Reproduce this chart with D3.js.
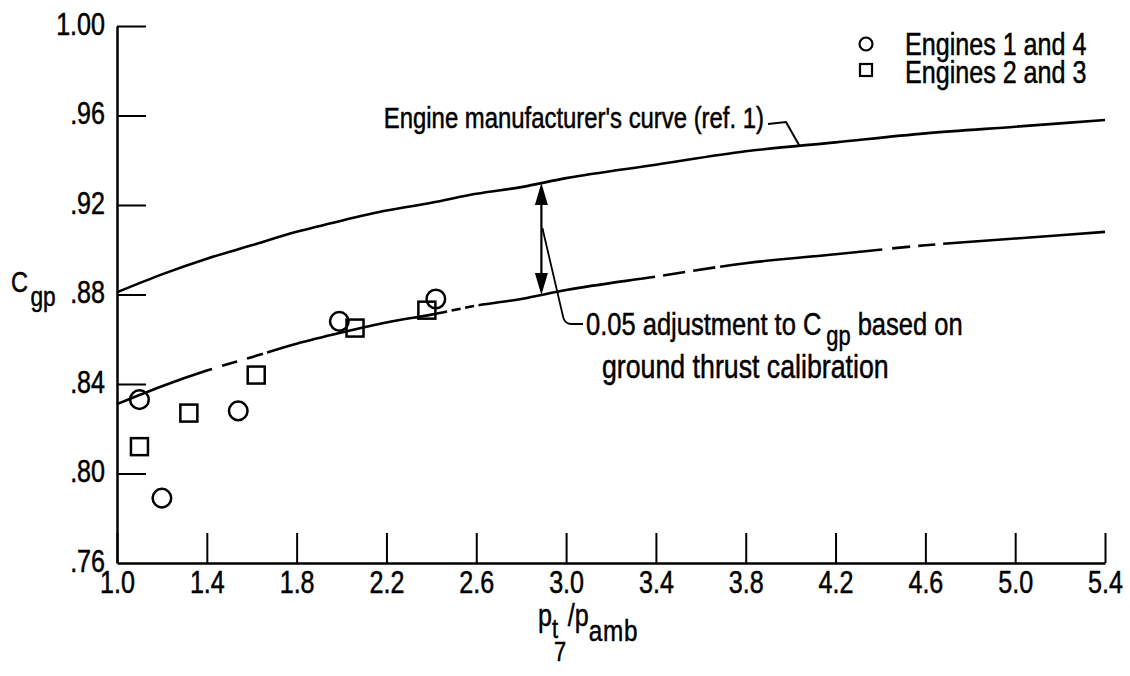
<!DOCTYPE html>
<html>
<head>
<meta charset="utf-8">
<script src="https://cdn.jsdelivr.net/npm/d3@7"></script>
<style>
  html, body { margin: 0; padding: 0; background: #fff; }
  svg text { font-family: "Liberation Sans", Arial, sans-serif; fill: #000; stroke: #000; stroke-width: 0.5px; }
</style>
</head>
<body>
<svg id="chart" width="1130" height="676"></svg>
<script>
// ---- data -------------------------------------------------------------
const xTicks = [1.0, 1.4, 1.8, 2.2, 2.6, 3.0, 3.4, 3.8, 4.2, 4.6, 5.0, 5.4];
const xTickLabels = ["1.0", "1.4", "1.8", "2.2", "2.6", "3.0", "3.4", "3.8", "4.2", "4.6", "5.0", "5.4"];
const yTicks = [0.76, 0.80, 0.84, 0.88, 0.92, 0.96, 1.00];
const yTickLabels = [".76", ".80", ".84", ".88", ".92", ".96", "1.00"];

// Engine manufacturer's gross thrust coefficient curve (ref. 1)
const curveRatio = [1.0, 1.2, 1.4, 1.6, 1.8, 2.0, 2.2, 2.4, 2.6, 2.8, 3.0, 3.4, 3.8, 4.2, 4.6, 5.0, 5.4];
const manufacturerCgp = [0.881, 0.889, 0.896, 0.902, 0.908, 0.913, 0.9175, 0.921, 0.925, 0.928, 0.932, 0.938, 0.944, 0.948, 0.952, 0.955, 0.958];
// shift applied from the ground thrust calibration
const groundAdjustment = 0.05;

// flight data
const engines14Ratio = [1.10, 1.20, 1.54, 1.99, 2.42];
const engines14Cgp   = [0.833, 0.789, 0.828, 0.868, 0.878];
const engines23Ratio = [1.10, 1.32, 1.62, 2.06, 2.38];
const engines23Cgp   = [0.812, 0.827, 0.844, 0.865, 0.873];

// stretches of the adjusted curve that are inked (pressure-ratio units)
const adjustedInkSpans = [[1.0, 1.423], [1.468, 1.535], [1.579, 1.650], [1.668, 2.47],
  [2.49, 2.53], [2.55, 2.59], [2.61, 3.396], [3.432, 3.53], [3.566, 3.664],
  [3.686, 4.408], [4.452, 4.532], [4.568, 4.644], [4.679, 5.4]];

const legendLabels = ["Engines 1 and 4", "Engines 2 and 3"];

// ---- layout -----------------------------------------------------------
const svg = d3.select("#chart");
const x = d3.scaleLinear().domain([1.0, 5.4]).range([117, 1105]);
const y = d3.scaleLinear().domain([0.76, 1.00]).range([563, 26]);

const ink = "#000";
const SX = 0.81;   // horizontal squeeze giving the condensed lettering

// text placed at (tx, ty) and squeezed horizontally about that point
function label(tx, ty, size, anchor) {
  return svg.append("text")
    .attr("transform", `translate(${tx},${ty}) scale(${SX},1)`)
    .attr("font-size", size)
    .attr("text-anchor", anchor || "start");
}

// axes with inward ticks
const yAxis = d3.axisLeft(y)
  .tickValues(yTicks)
  .tickFormat((d, i) => yTickLabels[i])
  .tickSizeInner(-29).tickSizeOuter(0).tickPadding(12);
const xAxis = d3.axisBottom(x)
  .tickValues(xTicks)
  .tickFormat((d, i) => xTickLabels[i])
  .tickSizeInner(-30).tickSizeOuter(0).tickPadding(9);

const gy = svg.append("g").attr("transform", "translate(117,0)").call(yAxis);
const gx = svg.append("g").attr("transform", "translate(0,563)").call(xAxis);
[gx, gy].forEach(g => {
  g.attr("font-family", null).attr("font-size", null);
  g.select(".domain").attr("stroke", ink).attr("stroke-width", 2.5);
  g.selectAll(".tick line").attr("stroke", ink).attr("stroke-width", 2);
  g.selectAll(".tick text").attr("font-size", 31).attr("fill", ink)
    .attr("transform", `scale(${SX},1)`);
});
gy.selectAll(".tick text").attr("x", -12 / SX).attr("dy", "0.27em");
gx.selectAll(".tick text").attr("dy", "0.69em");
gy.selectAll(".tick").filter(d => d === 0.76).select("line").remove();

// curves
const line = d3.line().x(d => x(d[0])).y(d => y(d[1])).curve(d3.curveMonotoneX);
const upperPts = curveRatio.map((r, i) => [r, manufacturerCgp[i]]);
const lowerPts = curveRatio.map((r, i) => [r, manufacturerCgp[i] - groundAdjustment]);

svg.append("path").attr("d", line(upperPts))
  .attr("fill", "none").attr("stroke", ink).attr("stroke-width", 2.6);

const lowerPath = svg.append("path").attr("d", line(lowerPts))
  .attr("fill", "none").attr("stroke", ink).attr("stroke-width", 2.6);

// turn the inked spans into a dash pattern along the path length
(function () {
  const node = lowerPath.node();
  const total = node.getTotalLength();
  const lengthAt = px => {
    let lo = 0, hi = total;
    for (let k = 0; k < 40; k++) {
      const mid = (lo + hi) / 2;
      if (node.getPointAtLength(mid).x < px) lo = mid; else hi = mid;
    }
    return (lo + hi) / 2;
  };
  const dashes = [];
  let cursor = 0;
  adjustedInkSpans.forEach(([a, b], i) => {
    const la = i === 0 ? 0 : lengthAt(x(a));
    const lb = i === adjustedInkSpans.length - 1 ? total : lengthAt(x(b));
    if (i > 0) dashes.push(la - cursor);
    dashes.push(lb - la);
    cursor = lb;
  });
  dashes.push(total);
  lowerPath.attr("stroke-dasharray", dashes.map(v => v.toFixed(2)).join(" "));
})();

// data symbols
svg.append("g").selectAll("circle")
  .data(engines14Ratio.map((r, i) => [r, engines14Cgp[i]]))
  .join("circle")
  .attr("cx", d => x(d[0])).attr("cy", d => y(d[1])).attr("r", 9.3)
  .attr("fill", "none").attr("stroke", ink).attr("stroke-width", 2.5);

const sq = 17;
svg.append("g").selectAll("rect")
  .data(engines23Ratio.map((r, i) => [r, engines23Cgp[i]]))
  .join("rect")
  .attr("x", d => x(d[0]) - sq / 2).attr("y", d => y(d[1]) - sq / 2)
  .attr("width", sq).attr("height", sq)
  .attr("fill", "none").attr("stroke", ink).attr("stroke-width", 2.5);

// legend
svg.append("circle").attr("cx", 866).attr("cy", 44).attr("r", 6.5)
  .attr("fill", "none").attr("stroke", ink).attr("stroke-width", 2.2);
svg.append("rect").attr("x", 860).attr("y", 64).attr("width", 12).attr("height", 12)
  .attr("fill", "none").attr("stroke", ink).attr("stroke-width", 2.2);
legendLabels.forEach((t, i) => label(905, 55 + i * 28, 31).text(t));

// manufacturer curve label and leader
label(764, 128, 29.5, "end").text("Engine manufacturer's curve (ref. 1)");
const upperAt = d3.scaleLinear().domain(curveRatio).range(manufacturerCgp);
const leaderRatio = 4.04;
svg.append("path")
  .attr("d", `M768,124 L786,122 L${x(leaderRatio)},${y(upperAt(leaderRatio))}`)
  .attr("fill", "none").attr("stroke", ink).attr("stroke-width", 2);

// double-headed adjustment arrow
const arrowRatio = 2.89;
const ax = x(arrowRatio);
const yTop = y(upperAt(arrowRatio));
const yBot = y(upperAt(arrowRatio) - groundAdjustment);
svg.append("line").attr("x1", ax).attr("x2", ax).attr("y1", yTop + 10).attr("y2", yBot - 10)
  .attr("stroke", ink).attr("stroke-width", 2.2);
svg.append("path").attr("d", `M${ax},${yTop} L${ax - 6.5},${yTop + 22} L${ax + 6.5},${yTop + 22} Z`).attr("fill", ink);
svg.append("path").attr("d", `M${ax},${yBot} L${ax - 6.5},${yBot - 22} L${ax + 6.5},${yBot - 22} Z`).attr("fill", ink);

// annotation leader and text
svg.append("path").attr("d", `M${ax + 1},228 L${ax + 22},318 Q${ax + 24},324 ${ax + 30},324 L583,324`)
  .attr("fill", "none").attr("stroke", ink).attr("stroke-width", 1.8);
const ann = label(586, 335, 31.5);
ann.append("tspan").text("0.05 adjustment to C");
ann.append("tspan").attr("dy", 10).attr("dx", 6).attr("font-size", 27).text("gp");
ann.append("tspan").attr("dy", -10).text(" based on");
label(602, 378, 33).text("ground thrust calibration");

// axis titles
const yt = label(11, 292, 29);
yt.append("tspan").text("C");
yt.append("tspan").attr("dy", 14).attr("dx", 3).attr("font-size", 28).text("gp");

const xt = label(538, 626, 31);
xt.append("tspan").text("p");
xt.append("tspan").attr("dy", 12).attr("font-size", 27).text("t");
xt.append("tspan").attr("dy", 23).attr("dx", -5).attr("font-size", 27).text("7");
xt.append("tspan").attr("dy", -35).attr("dx", 2).text("/p");
xt.append("tspan").attr("dy", 15).attr("font-size", 30).attr("letter-spacing", 1).text("amb");
</script>
</body>
</html>
